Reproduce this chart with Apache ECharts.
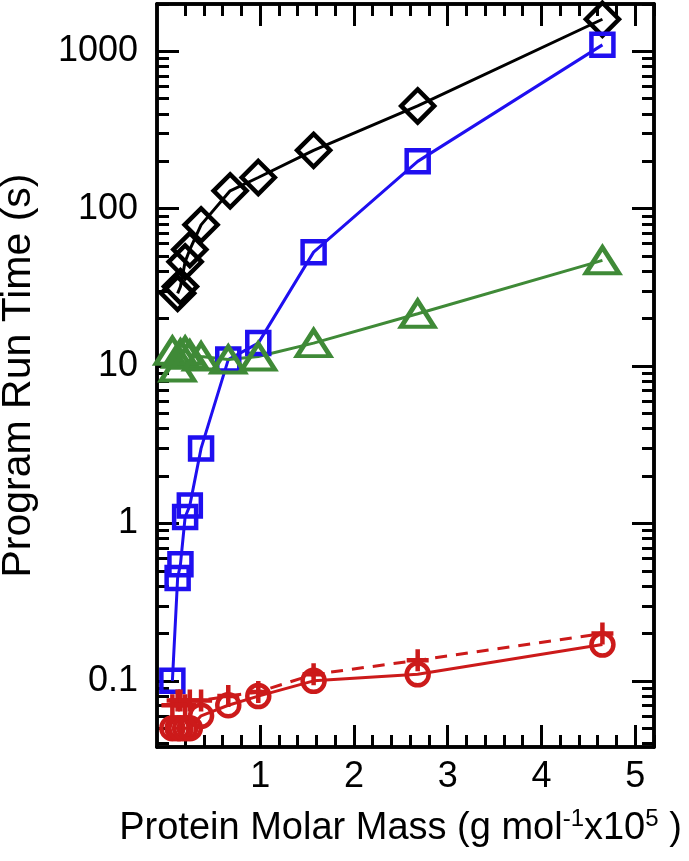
<!DOCTYPE html>
<html>
<head>
<meta charset="utf-8">
<script src="https://cdn.jsdelivr.net/npm/echarts@6/dist/echarts.min.js"></script>
<style>
html,body{margin:0;padding:0;background:#fff;}
#chart{width:689px;height:861px;}
</style>
</head>
<body>
<div id="chart"></div>
<script>
// ---- data ----
const massBlack = [0.12, 0.15, 0.2, 0.25, 0.37, 0.68, 0.98, 1.57, 2.68, 4.65];
const timeBlack = [29, 32, 46, 55, 79, 130, 158, 235, 450, 1600];

const massBlue = [0.064, 0.12, 0.15, 0.2, 0.25, 0.37, 0.66, 0.98, 1.57, 2.68, 4.65];
const timeBlue = [0.1, 0.45, 0.55, 1.1, 1.3, 3.0, 11, 14, 53, 200, 1100];

const massGreen = [0.064, 0.12, 0.15, 0.2, 0.25, 0.37, 0.66, 0.98, 1.57, 2.68, 4.65];
const timeGreen = [12.5, 9.8, 12, 12.5, 11.8, 11.5, 11, 11.5, 14, 21.5, 47];

const massRed = [0.064, 0.12, 0.15, 0.2, 0.25, 0.37, 0.66, 0.98, 1.57, 2.68, 4.65];
const timeRedCircle = [0.05, 0.05, 0.05, 0.05, 0.05, 0.06, 0.07, 0.08, 0.1, 0.11, 0.17];
const timeRedPlus = [0.07, 0.075, 0.075, 0.07, 0.075, 0.075, 0.08, 0.085, 0.11, 0.135, 0.2];

const xMajorTicks = [1, 2, 3, 4, 5];
const xMinorTicks = [0.2,0.4,0.6,0.8,1.2,1.4,1.6,1.8,2.2,2.4,2.6,2.8,3.2,3.4,3.6,3.8,4.2,4.4,4.6,4.8,5.2];
const yMajorTicks = [0.1, 1, 10, 100, 1000];
const yMinorTicks = [0.04,0.05,0.06,0.07,0.08,0.09,
  0.2,0.3,0.4,0.5,0.6,0.7,0.8,0.9,
  2,3,4,5,6,7,8,9,
  20,30,40,50,60,70,80,90,
  200,300,400,500,600,700,800,900,2000];

const xTitle = 'Protein Molar Mass (g mol{sup|-1}x10{sup|5} )';
const yTitle = 'Program Run Time (s)';

// ---- chart ----
const FONT = 'Liberation Sans';
const X_MIN = -0.1, X_MAX = 5.2, Y_MIN = 0.038, Y_MAX = 2000;
const AXLINE = {color: '#000', width: 3.5};

function pair(arrX, arrY){ return arrX.map((x,i)=>[x, arrY[i]]); }

function xAx(pos, major, withLabel){
  return {
    type: 'value', position: pos, min: X_MIN, max: X_MAX,
    axisLine: {show: true, onZero: false, lineStyle: AXLINE},
    splitLine: {show: false},
    axisTick: {show: true, inside: true, length: major ? 22 : 12,
      lineStyle: {color: '#000', width: 3},
      customValues: major ? xMajorTicks : xMinorTicks},
    axisLabel: {show: withLabel, customValues: xMajorTicks, fontSize: 36,
      fontFamily: FONT, color: '#000', margin: 12},
    name: withLabel ? xTitle : '',
    nameLocation: 'middle', nameGap: 60,
    nameTextStyle: {fontSize: 38, fontFamily: FONT, color: '#000', padding: [0, 10, 0, 0],
      rich: {sup: {fontSize: 24, fontFamily: FONT, color: '#000', padding: [0,0,20,0]}}}
  };
}
function yAx(pos, major, withLabel){
  return {
    type: 'log', position: pos, min: Y_MIN, max: Y_MAX, logBase: 10,
    axisLine: {show: true, onZero: false, lineStyle: AXLINE},
    splitLine: {show: false},
    axisTick: {show: true, inside: true, length: major ? 22 : 12,
      lineStyle: {color: '#000', width: 3},
      customValues: major ? yMajorTicks : yMinorTicks},
    axisLabel: {show: withLabel, customValues: yMajorTicks, fontSize: 36,
      fontFamily: FONT, color: '#000', margin: 19,
      formatter: v => String(Number(v.toPrecision(6)))},
    name: withLabel ? yTitle : '',
    nameLocation: 'middle', nameGap: 118,
    nameTextStyle: {fontSize: 41, fontFamily: FONT, color: '#000'}
  };
}

function lineSeries(name, data, color, symbol, size, dashed){
  return {
    name, type: 'line', data, xAxisIndex: 0, yAxisIndex: 0,
    symbol, symbolSize: size, showAllSymbol: true,
    lineStyle: {color, width: 3, type: dashed ? [12, 9] : 'solid'},
    itemStyle: {color: 'rgba(0,0,0,0)', borderColor: color, borderWidth: 4.5},
    emphasis: {disabled: true}, animation: false, z: 3
  };
}

const chart = echarts.init(document.getElementById('chart'), null, {renderer: 'canvas'});
chart.setOption({
  animation: false,
  backgroundColor: '#fff',
  grid: {left: 157, right: 35, top: 4, bottom: 114, containLabel: false, outerBoundsMode: 'none'},
  xAxis: [xAx('bottom', true, true), xAx('bottom', false, false), xAx('top', true, false), xAx('top', false, false)],
  yAxis: [yAx('left', true, true), yAx('left', false, false), yAx('right', true, false), yAx('right', false, false)],
  series: [
    lineSeries('black', pair(massBlack, timeBlack), '#000000', 'diamond', [33, 33], false),
    lineSeries('blue', pair(massBlue, timeBlue), '#1f0ff0', 'rect', [22, 22], false),
    lineSeries('green', pair(massGreen, timeGreen), '#3f8a37', 'triangle', [33, 26], false),
    lineSeries('redPlus', pair(massRed, timeRedPlus), '#cc1a1a', 'path://M0,-10L0,10M-10,0L10,0', [22, 22], true),
    lineSeries('redCircle', pair(massRed, timeRedCircle), '#cc1a1a', 'circle', [22, 22], false)
  ]
});
</script>
</body>
</html>
